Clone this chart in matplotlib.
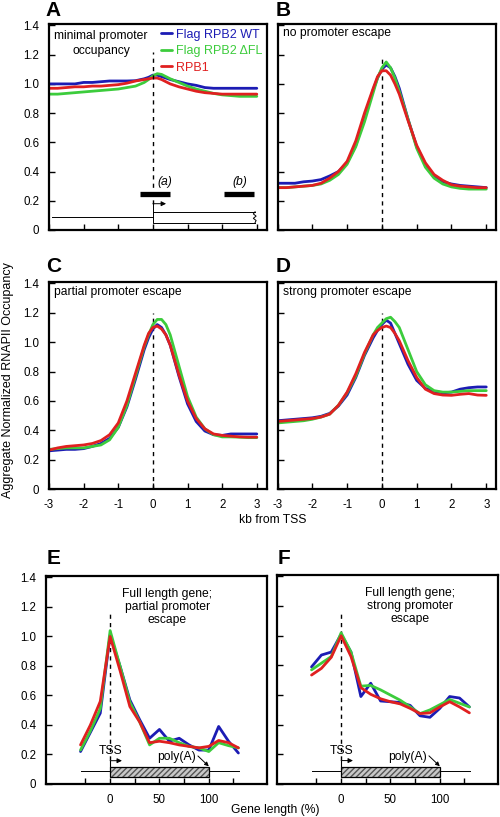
import numpy as np
import matplotlib
matplotlib.use("Agg")
import matplotlib.pyplot as plt
from matplotlib.patches import Rectangle

plt.rcParams['font.family'] = ['Liberation Sans', 'DejaVu Sans']

# ----------------------------
# data
# ----------------------------
series_names = ["Flag RPB2 WT", "Flag RPB2 \u0394FL", "RPB1"]
series_colors = ["#1c1cb4", "#3ccc3c", "#e02020"]

kb = [-3, -2.75, -2.5, -2.25, -2, -1.75, -1.5, -1.25, -1, -0.75, -0.5, -0.25, -0.125,
      0, 0.125, 0.25, 0.375, 0.5, 0.75, 1, 1.25, 1.5, 1.75, 2, 2.25, 2.5, 2.75, 3]

a_wt = [1.0, 1.0, 1.0, 1.0, 1.01, 1.01, 1.015, 1.02, 1.02, 1.02, 1.022, 1.035, 1.045,
        1.06, 1.06, 1.05, 1.04, 1.03, 1.015, 1.0, 0.99, 0.975, 0.97, 0.97, 0.97, 0.97, 0.97, 0.97]
a_dfl = [0.93, 0.93, 0.935, 0.94, 0.945, 0.95, 0.955, 0.96, 0.965, 0.975, 0.985, 1.01, 1.03,
         1.055, 1.07, 1.065, 1.05, 1.035, 1.01, 0.985, 0.965, 0.95, 0.935, 0.925, 0.92, 0.915, 0.915, 0.915]
a_rpb1 = [0.97, 0.97, 0.975, 0.98, 0.98, 0.985, 0.985, 0.99, 0.995, 1.005, 1.02, 1.03, 1.035,
          1.04, 1.04, 1.03, 1.015, 1.0, 0.98, 0.965, 0.95, 0.94, 0.935, 0.93, 0.93, 0.93, 0.93, 0.93]

b_wt = [0.32, 0.32, 0.32, 0.33, 0.335, 0.345, 0.37, 0.40, 0.46, 0.58, 0.77, 0.96, 1.04,
        1.10, 1.13, 1.11, 1.05, 0.97, 0.76, 0.57, 0.45, 0.37, 0.33, 0.315, 0.305, 0.30, 0.295, 0.29]
b_dfl = [0.29, 0.29, 0.295, 0.30, 0.305, 0.315, 0.34, 0.38, 0.45, 0.57, 0.74, 0.94, 1.04,
         1.11, 1.15, 1.11, 1.04, 0.95, 0.76, 0.56, 0.43, 0.355, 0.315, 0.295, 0.285, 0.28, 0.28, 0.28]
b_rpb1 = [0.29, 0.29, 0.295, 0.30, 0.305, 0.32, 0.355, 0.40, 0.47, 0.61, 0.80, 0.97, 1.05,
          1.09, 1.09, 1.06, 1.00, 0.93, 0.75, 0.58, 0.46, 0.38, 0.34, 0.31, 0.30, 0.295, 0.29, 0.29]

c_wt = [0.26, 0.265, 0.27, 0.27, 0.275, 0.29, 0.31, 0.345, 0.42, 0.56, 0.75, 0.95, 1.03,
        1.09, 1.12, 1.10, 1.05, 0.98, 0.77, 0.58, 0.46, 0.395, 0.37, 0.365, 0.375, 0.375, 0.375, 0.375]
c_dfl = [0.27, 0.275, 0.28, 0.28, 0.28, 0.29, 0.30, 0.335, 0.42, 0.57, 0.77, 0.97, 1.05,
         1.12, 1.155, 1.155, 1.12, 1.05, 0.84, 0.63, 0.49, 0.41, 0.37, 0.355, 0.355, 0.353, 0.35, 0.35]
c_rpb1 = [0.265, 0.28, 0.29, 0.295, 0.30, 0.31, 0.33, 0.37, 0.45, 0.60, 0.79, 0.98, 1.06,
          1.10, 1.11, 1.09, 1.05, 0.98, 0.78, 0.60, 0.48, 0.41, 0.375, 0.365, 0.36, 0.355, 0.353, 0.353]

d_wt = [0.465, 0.47, 0.475, 0.48, 0.485, 0.495, 0.515, 0.565, 0.64, 0.76, 0.91, 1.03, 1.08,
        1.12, 1.15, 1.13, 1.06, 0.99, 0.85, 0.74, 0.685, 0.665, 0.655, 0.66, 0.68, 0.69, 0.695, 0.695]
d_dfl = [0.45, 0.455, 0.46, 0.465, 0.475, 0.49, 0.51, 0.57, 0.655, 0.77, 0.92, 1.05, 1.10,
         1.13, 1.16, 1.17, 1.14, 1.10, 0.95, 0.80, 0.71, 0.67, 0.66, 0.66, 0.665, 0.67, 0.67, 0.67]
d_rpb1 = [0.46, 0.465, 0.47, 0.475, 0.48, 0.49, 0.51, 0.57, 0.66, 0.785, 0.93, 1.05, 1.08,
          1.10, 1.11, 1.10, 1.06, 1.01, 0.875, 0.76, 0.68, 0.65, 0.64, 0.638, 0.645, 0.65, 0.64, 0.638]

gene_pct = [-30, -20, -10, 0, 10, 20, 30, 40, 50, 60, 70, 80, 90, 100, 110, 120, 130]

e_wt = [0.22, 0.35, 0.48, 1.01, 0.80, 0.57, 0.435, 0.31, 0.37, 0.29, 0.31, 0.265, 0.23, 0.23, 0.39, 0.29, 0.21]
e_dfl = [0.23, 0.36, 0.51, 1.04, 0.80, 0.555, 0.42, 0.265, 0.31, 0.31, 0.28, 0.255, 0.245, 0.22, 0.28, 0.26, 0.245]
e_rpb1 = [0.265, 0.40, 0.56, 1.0, 0.77, 0.525, 0.42, 0.28, 0.29, 0.28, 0.265, 0.255, 0.245, 0.255, 0.295, 0.28, 0.245]

f_wt = [0.79, 0.87, 0.89, 1.01, 0.89, 0.59, 0.68, 0.56, 0.555, 0.55, 0.53, 0.46, 0.45, 0.51, 0.59, 0.58, 0.52]
f_dfl = [0.77, 0.815, 0.86, 1.02, 0.89, 0.66, 0.665, 0.635, 0.60, 0.565, 0.52, 0.475, 0.50, 0.535, 0.57, 0.545, 0.52]
f_rpb1 = [0.735, 0.78, 0.855, 1.0, 0.86, 0.65, 0.605, 0.575, 0.555, 0.54, 0.51, 0.475, 0.48, 0.52, 0.555, 0.52, 0.48]

panel_titles = {
    "A": "minimal promoter\noccupancy",
    "B": "no promoter escape",
    "C": "partial promoter escape",
    "D": "strong promoter escape",
    "E": "Full length gene;\npartial promoter\nescape",
    "F": "Full length gene;\nstrong promoter\nescape",
}

y_ticks = [0, 0.2, 0.4, 0.6, 0.8, 1.0, 1.2, 1.4]
y_ticklabels = ["0", "0.2", "0.4", "0.6", "0.8", "1.0", "1.2", "1.4"]
kb_ticks = [-3, -2, -1, 0, 1, 2, 3]
gene_ticks = [-25, 0, 25, 50, 75, 100, 125]
gene_ticklabels = ["", "0", "", "50", "", "100", ""]

TXT = 8.7


def style_axes(ax, left_labels):
    for s in ax.spines.values():
        s.set_linewidth(1.6)
    ax.tick_params(direction="in", length=4, width=1, labelsize=8.3, pad=7)
    ax.set_yticks(y_ticks)
    ax.set_yticklabels(y_ticklabels if left_labels else [])
    ax.set_ylim(0, 1.41)


def draw_lines(ax, x, ys, lw=2.0):
    for y, c, name in zip(ys, series_colors, series_names):
        ax.plot(x, y, color=c, lw=lw, label=name, solid_capstyle="round")


fig = plt.figure(figsize=(5, 8.17), dpi=100)

W = 500.0
H = 817.0


def box(l, t, r, b):
    return [l / W, 1 - b / H, (r - l) / W, (b - t) / H]


axA = fig.add_axes(box(49, 24, 266.5, 230))
axB = fig.add_axes(box(277.5, 24, 496, 230))
axC = fig.add_axes(box(49, 282, 266.5, 489))
axD = fig.add_axes(box(277.5, 282, 496, 489))
axE = fig.add_axes(box(46, 576, 267, 784))
axF = fig.add_axes(box(277, 575, 498, 784))

# top four panels
kb_data = {axA: (a_wt, a_dfl, a_rpb1), axB: (b_wt, b_dfl, b_rpb1),
           axC: (c_wt, c_dfl, c_rpb1), axD: (d_wt, d_dfl, d_rpb1)}
for ax, left in [(axA, True), (axB, False), (axC, True), (axD, False)]:
    style_axes(ax, left)
    ax.set_xlim(-3, 3.28)
    ax.set_xticks(kb_ticks)
    if ax in (axC, axD):
        ax.set_xticklabels([str(t) for t in kb_ticks])
    else:
        ax.set_xticklabels([])
    draw_lines(ax, kb, kb_data[ax])

# dashed TSS lines
axA.plot([0, 0], [0.18, 1.22], color="k", lw=1, ls=(0, (3, 3)))
for ax in (axB, axC, axD):
    ax.plot([0, 0], [0, 1.2], color="k", lw=1, ls=(0, (3, 3)), zorder=1)

# panel A gene diagram
axA.plot([-2.9, 0], [0.089, 0.089], color="k", lw=0.7)
axA.plot([0, 0, 2.95], [0.18, 0.05, 0.05], color="k", lw=0.7)
axA.plot([0, 2.95], [0.125, 0.125], color="k", lw=0.7)
axA.plot([2.95, 2.9, 2.98, 2.9, 2.98, 2.95], [0.125, 0.11, 0.095, 0.08, 0.065, 0.05], color="k", lw=0.7)
axA.annotate("", xy=(0.38, 0.18), xytext=(0, 0.18),
             arrowprops=dict(arrowstyle="-|>", lw=0.7, color="k", mutation_scale=7, shrinkA=0, shrinkB=0))
axA.plot([-0.37, 0.5], [0.245, 0.245], color="k", lw=3.8, solid_capstyle="butt")
axA.plot([2.05, 2.92], [0.245, 0.245], color="k", lw=3.8, solid_capstyle="butt")
axA.text(0.33, 0.33, "(a)", style="italic", fontsize=TXT, ha="center", va="center")
axA.text(2.5, 0.33, "(b)", style="italic", fontsize=TXT, ha="center", va="center")

leg = axA.legend(loc="upper right", bbox_to_anchor=(1.0, 0.995), frameon=False, fontsize=9,
                 handlelength=0.85, handletextpad=0.35, labelspacing=0.36, borderaxespad=0.2,
                 borderpad=0.1, labelcolor="linecolor")

axA.text(0.24, 0.905, panel_titles["A"], transform=axA.transAxes, ha="center", va="center",
         fontsize=TXT, linespacing=1.25)
axB.text(0.027, 0.955, panel_titles["B"], transform=axB.transAxes, ha="left", va="center", fontsize=TXT)
axC.text(0.025, 0.95, panel_titles["C"], transform=axC.transAxes, ha="left", va="center", fontsize=TXT)
axD.text(0.027, 0.952, panel_titles["D"], transform=axD.transAxes, ha="left", va="center", fontsize=TXT)

# bottom two panels
for ax, left, ys, tx in [(axE, True, (e_wt, e_dfl, e_rpb1), 0.55),
                         (axF, False, (f_wt, f_dfl, f_rpb1), 0.60)]:
    style_axes(ax, left)
    ax.set_xlim(-65, 159)
    ax.set_xticks(gene_ticks)
    ax.set_xticklabels(gene_ticklabels)
    draw_lines(ax, gene_pct, ys, lw=2.0)
    ax.plot([0, 0], [0.16, 1.17], color="k", lw=1, ls=(0, (3, 3)), zorder=1)
    # gene diagram
    ax.plot([-30, 131], [0.086, 0.086], color="k", lw=0.7, zorder=2)
    ax.add_patch(Rectangle((0, 0.05), 100, 0.068, facecolor="#c8c8c8", edgecolor="#555555",
                           hatch="//////", lw=0, zorder=3))
    ax.add_patch(Rectangle((0, 0.05), 100, 0.068, facecolor="none", edgecolor="k", lw=0.9, zorder=4))
    ax.plot([0, 0], [0.118, 0.158], color="k", lw=0.8)
    ax.annotate("", xy=(12, 0.158), xytext=(0, 0.158),
                arrowprops=dict(arrowstyle="-|>", lw=0.7, color="k", mutation_scale=7, shrinkA=0, shrinkB=0))
    ax.text(0, 0.225, "TSS", fontsize=TXT, ha="center", va="center")
    ax.text(67, 0.18, "poly(A)", fontsize=TXT, ha="center", va="center")
    ax.annotate("", xy=(100, 0.12), xytext=(89, 0.19),
                arrowprops=dict(arrowstyle="-|>", lw=0.7, color="k", mutation_scale=6, shrinkA=0, shrinkB=0))
    ax.text(tx, 0.85, panel_titles["E" if ax is axE else "F"], transform=ax.transAxes,
            ha="center", va="center", fontsize=TXT, linespacing=1.12)

# panel letters
for lab, px, py in [("A", 45, 11), ("B", 276, 11), ("C", 46, 267), ("D", 276, 267),
                    ("E", 47, 559), ("F", 278, 558)]:
    fig.text(px / W, 1 - py / H, lab, fontsize=15, fontweight="bold", ha="left", va="center")

fig.text(273 / W, 1 - 520 / H, "kb from TSS", fontsize=TXT, ha="center", va="center")
fig.text(275 / W, 1 - 810 / H, "Gene length (%)", fontsize=TXT, ha="center", va="center")
fig.text(8 / W, 1 - 380 / H, "Aggregate Normalized RNAPII Occupancy", fontsize=9,
         rotation=90, ha="center", va="center")

fig.savefig("out.png", dpi=100)
